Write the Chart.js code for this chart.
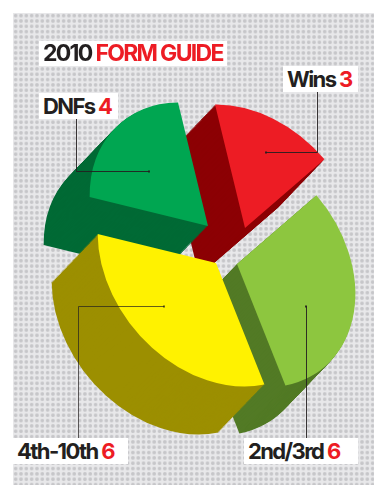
<!DOCTYPE html>
<html>
<head>
<meta charset="utf-8">
<style>
  html, body { margin: 0; padding: 0; background: #fff; }
  #wrap { position: relative; width: 375px; height: 485px; overflow: hidden; }
  #dots {
    position: absolute; left: 13px; top: 13px; width: 361px; height: 472px;
    background-color: #e8e8ea;
    background-image: radial-gradient(circle at 50% 50%, #c6c6c9 0, #c6c6c9 1.3px, rgba(198,198,201,0) 2.3px);
    background-size: 5.33px 5.33px;
  }
  canvas { position: absolute; left: 0; top: 0; }
  .tag {
    position: absolute; background: #fff; color: #231f20; height: 26px; line-height: 26px;
    font-family: Inter, sans-serif; font-weight: 700; font-size: 22px; letter-spacing: -1.6px;
    white-space: nowrap; box-sizing: border-box; padding-left: 4px;
  }
  .tag b { color: #ed1c24; font-weight: 700; }
</style>
</head>
<body>
<div id="wrap">
  <div id="dots"></div>
  <canvas id="chart" width="375" height="485"></canvas>
  <div class="tag" style="left:39px;top:41px;width:188px;height:25px;line-height:25px;font-size:23px;letter-spacing:-1.7px">2010 <b>FORM GUIDE</b></div>
  <div class="tag" id="tag0" style="left:283px;top:66px;width:75px"></div>
  <div class="tag" id="tag3" style="left:39px;top:93px;width:79px"></div>
  <div class="tag" id="tag2" style="left:13px;top:438px;width:115px"></div>
  <div class="tag" id="tag1" style="left:244px;top:438px;width:114px"></div>
</div>
<script src="https://cdn.jsdelivr.net/npm/chart.js@4"></script>
<script>
const categories = ['Wins', '2nd/3rd', '4th-10th', 'DNFs'];
const races = [3, 6, 6, 4];

const topColors = ['#ed1c24', '#8dc63f', '#fff200', '#00a651'];
const sideColors = ['#8c0004', '#527a25', '#9c8f00', '#006a35'];

// where each exploded slice has its tip, and back to front drawing order
const tips = [[245, 228], [237, 264], [216, 263], [208, 226]];
const drawOrder = [0, 1, 3, 2];
const depth = [-46, 48];

// pie is squashed along the north-east diagonal
const majorAxis = [0.643, 0.766];
const minorAxis = [0.766, -0.643];
const majorRadius = 135;
const minorRadius = 105;

// leader lines: dot in the slice, elbow, end at the label
const leaders = [
  [[266, 152], [317, 152], [317, 92]],
  [[306, 306], [306, 306], [306, 438]],
  [[164, 306], [78, 306], [78, 438]],
  [[149, 171], [76, 171], [76, 119]]
];

categories.forEach((name, i) => {
  document.getElementById('tag' + i).innerHTML = name + ' <b>' + races[i] + '</b>';
});

function squash(ctx, arc, tip) {
  const [ux, uy] = majorAxis;
  const [vx, vy] = minorAxis;
  const a = majorRadius / arc.outerRadius;
  const b = minorRadius / arc.outerRadius;
  ctx.translate(tip[0], tip[1]);
  ctx.transform(
    a * ux * ux + b * vx * vx, a * ux * uy + b * vx * vy,
    a * ux * uy + b * vx * vy, a * uy * uy + b * vy * vy,
    0, 0
  );
  ctx.translate(-arc.x, -arc.y);
}

const explodedPie = {
  id: 'explodedPie',
  beforeDatasetDraw(chart) {
    const ctx = chart.ctx;
    const arcs = chart.getDatasetMeta(0).data;
    const steps = Math.ceil(Math.abs(depth[0]));
    drawOrder.forEach((i) => {
      const arc = arcs[i];
      const opts = arc.options;
      arc.options = Object.assign({}, opts, { backgroundColor: sideColors[i], borderColor: sideColors[i] });
      for (let s = steps; s > 0; s--) {
        ctx.save();
        ctx.translate(depth[0] * s / steps, depth[1] * s / steps);
        squash(ctx, arc, tips[i]);
        arc.draw(ctx);
        ctx.restore();
      }
      arc.options = opts;
      ctx.save();
      squash(ctx, arc, tips[i]);
      arc.draw(ctx);
      ctx.restore();
    });
    return false;
  },
  afterDatasetsDraw(chart) {
    const ctx = chart.ctx;
    ctx.save();
    ctx.strokeStyle = '#231f20';
    ctx.fillStyle = '#231f20';
    ctx.lineWidth = 1;
    leaders.forEach((pts) => {
      ctx.globalAlpha = pts[0][0] === 164 ? 0.7 : 0.9;
      ctx.beginPath();
      ctx.moveTo(pts[0][0], pts[0][1] + 0.5);
      ctx.lineTo(pts[1][0] + 0.5, pts[1][1] + 0.5);
      ctx.lineTo(pts[2][0] + 0.5, pts[2][1]);
      ctx.stroke();
      ctx.fillRect(pts[0][0] - 1, pts[0][1] - 0.5, 2, 2);
    });
    ctx.restore();
  }
};

new Chart(document.getElementById('chart'), {
  type: 'pie',
  data: {
    labels: categories,
    datasets: [{ data: races, backgroundColor: topColors, borderWidth: 0 }]
  },
  options: {
    responsive: false,
    animation: false,
    rotation: -7.5,
    plugins: { legend: { display: false }, tooltip: { enabled: false } }
  },
  plugins: [explodedPie]
});
</script>
</body>
</html>
